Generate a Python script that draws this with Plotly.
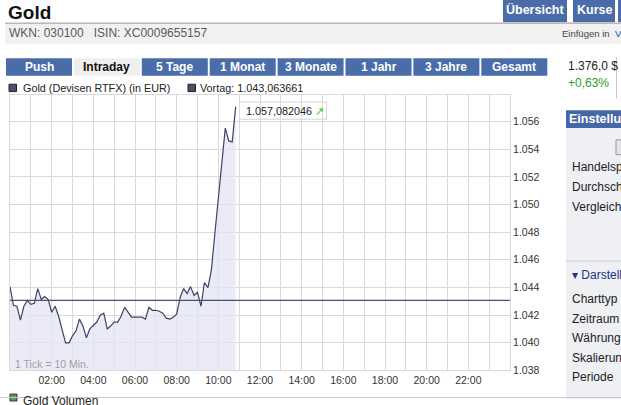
import plotly.graph_objects as go

W, H = 621, 405

# ---------------- data ----------------
gold_values = [
    1.04406, 1.04271, 1.04264, 1.04164, 1.04264, 1.04306, 1.04278, 1.04285,
    1.04392, 1.04313, 1.04335, 1.04313, 1.04221, 1.04264, 1.04192, 1.04086,
    1.04000, 1.04000, 1.04050, 1.04086, 1.04171, 1.04121, 1.04036, 1.04100,
    1.04128, 1.04150, 1.04200, 1.04214, 1.04100, 1.04121, 1.04150, 1.04150,
    1.04192, 1.04256, 1.04221, 1.04185, 1.04185, 1.04185, 1.04185, 1.04171,
    1.04256, 1.04235, 1.04235, 1.04228, 1.04214, 1.04178, 1.04171, 1.04185,
    1.04207, 1.04328, 1.04392, 1.04356, 1.04406, 1.04342, 1.04364, 1.04264,
    1.04436, 1.04399, 1.04527, 1.04790, 1.05054, 1.05310, 1.05552, 1.05460,
    1.05453, 1.057082046,
]
# one tick = 10 minutes, starting at 00:00 (hours)
gold_times = [i * 10 / 60 for i in range(len(gold_values))]
vortag = 1.043063661
last_label = "1.057,082046"

x_tick_hours = list(range(0, 25))
x_tick_labels = ["%02d:00" % h if (h % 2 == 0 and 0 < h < 24) else "" for h in x_tick_hours]
y_tick_vals = [1.038, 1.040, 1.042, 1.044, 1.046, 1.048, 1.050, 1.052, 1.054, 1.056]
y_tick_labels = ["%.3f" % v for v in y_tick_vals]

tabs = ["Push", "Intraday", "5 Tage", "1 Monat", "3 Monate", "1 Jahr", "3 Jahre", "Gesamt"]
panel_items = ["Handelsp", "Durchsch", "Vergleich"]
panel_items2 = ["Charttyp", "Zeitraum", "Währung", "Skalierun", "Periode"]

# ---------------- styles ----------------
FONT = "Liberation Sans, Arial, sans-serif"
BLUE = "#4a6ca8"
LINE = "#3c4466"
GRID = "#d9d9d9"


def px(x):
    return x / W


def py(y):
    return 1 - y / H


fig = go.Figure()
fig.add_trace(go.Scatter(
    x=gold_times, y=gold_values, mode="lines",
    line=dict(color=LINE, width=1.2),
    fill="tozeroy", fillcolor="rgba(228,228,246,0.75)",
    hoverinfo="skip", showlegend=False,
))
fig.add_trace(go.Scatter(
    x=[0, 24], y=[vortag, vortag], mode="lines",
    line=dict(color="#4a5272", width=1.2),
    hoverinfo="skip", showlegend=False,
))

shapes = []
ann = []


def rect(x0, y0, x1, y1, fill, line=None, lw=0):
    shapes.append(dict(type="rect", xref="paper", yref="paper",
                       x0=px(x0), x1=px(x1), y0=py(y1), y1=py(y0),
                       fillcolor=fill, line=dict(color=line or fill, width=lw), layer="below"))


def hline(x0, x1, y, color, w=1):
    shapes.append(dict(type="line", xref="paper", yref="paper",
                       x0=px(x0), x1=px(x1), y0=py(y), y1=py(y),
                       line=dict(color=color, width=w), layer="below"))


def text(x, y, s, size=12, color="#222", anchor="left", bold=False, family=FONT):
    if bold:
        s = "<b>%s</b>" % s
    ann.append(dict(xref="paper", yref="paper", x=px(x), y=py(y), text=s,
                    showarrow=False, xanchor=anchor, yanchor="middle",
                    font=dict(size=size, color=color, family=family)))


# header
text(6, 13, "Gold", 19, "#111", bold=True)
rect(503, 0, 567, 22.5, BLUE)
text(535, 10, "Übersicht", 12.5, "white", "center", bold=True)
rect(573, 0, 615, 22.5, BLUE)
text(594, 10, "Kurse", 12.5, "white", "center", bold=True)
rect(618, 0, 621, 22.5, BLUE)
rect(5, 23, 621, 45, "#f1f1f1")
hline(5, 621, 23.5, "#9a9a9a", 1)
text(7, 34, "WKN: 030100&nbsp;&nbsp; ISIN: XC0009655157", 12, "#5a5a5a")
text(612, 34, "Einfügen in", 9.5, "#444", "right")
text(613, 34, "V", 9.5, "#2a4aa0", "left")

# period tabs
for i, t in enumerate(tabs):
    x0 = 6 + 67.9 * i
    x1 = x0 + 66
    if t == "Intraday":
        rect(x0, 59, x1, 77, "#efefef")
        text((x0 + x1) / 2, 68, t, 12, "#111", "center", bold=True)
    else:
        rect(x0, 59, x1, 77, BLUE)
        text((x0 + x1) / 2, 68, t, 12, "white", "center", bold=True)

# right info panel
text(566, 67, "1.376,0 $", 12, "#222")
text(566, 84, "+0,63%", 12, "#2aa02a")
rect(616, 58, 617, 100, "#c8c8c8")
rect(566, 130, 621, 405, "#eef0f3")
rect(566, 112, 621, 130, "#4467a5")
text(567, 121, "Einstellungen", 12.5, "white", bold=True)
rect(616, 142, 624, 157, "#e4e4e4", "#999", 1)
for i, s in enumerate(panel_items):
    text(570, 170 + 20 * i, s, 12, "#222")
hline(566, 621, 265, "#c8ccd4", 1)
text(570, 279, "▾ Darstellung", 12, "#23357e")
for i, s in enumerate(panel_items2):
    text(570, 304 + 19.7 * i, s, 12, "#222")

# chart legend
rect(9, 85.5, 16.5, 93, "#4a5068", "#222", 1)
text(21, 89.5, "Gold (Devisen RTFX) (in EUR)", 10.8, "#222")
rect(188, 85.5, 195.5, 93, "#4a5068", "#222", 1)
text(198.5, 89.5, "Vortag: 1.043,063661", 10.8, "#222")

# last value box
rect(239.5, 103.5, 326.5, 121, "white", "#d4d4d4", 1)
text(244, 112.5, last_label + " <span style='color:#22cc22'>↗</span>", 10.8, "#222")

# tick note
text(13, 369, "1 Tick = 10 Min.", 10.5, "#a0a0a0")

# bottom (cut off in the window)
rect(10, 400, 17, 407, "#5aa05a", "#333", 1)
text(21, 407, "Gold Volumen", 12, "#222")
hline(0, 621, 403.5, "#c8c8c8", 1)

fig.update_layout(
    width=W, height=H,
    margin=dict(l=0, r=0, t=0, b=0),
    paper_bgcolor="white", plot_bgcolor="white",
    font=dict(family=FONT, size=10.5, color="#333"),
    shapes=shapes, annotations=ann,
    xaxis=dict(
        domain=[px(10), px(510)], range=[0, 24],
        tickmode="array", tickvals=x_tick_hours, ticktext=x_tick_labels,
        showgrid=True, gridcolor=GRID, gridwidth=1,
        showline=True, linecolor=GRID, mirror=True, zeroline=False,
        ticks="", tickfont=dict(size=10.5, color="#333"), fixedrange=True,
    ),
    yaxis=dict(
        domain=[py(376), py(96.7)], range=[1.038, 1.0579],
        side="right",
        tickmode="array", tickvals=y_tick_vals, ticktext=y_tick_labels,
        showgrid=True, gridcolor=GRID, gridwidth=1,
        showline=True, linecolor=GRID, mirror=True, zeroline=False,
        ticks="", tickfont=dict(size=10.5, color="#333"), fixedrange=True,
    ),
)

fig.write_html(
    "out.html",
    config={"displayModeBar": False, "staticPlot": True},
    post_script=(
        "document.documentElement.style.margin='0';"
        "document.documentElement.style.overflow='hidden';"
        "document.body.style.margin='0';"
        "document.body.style.overflow='hidden';"
    ),
)
